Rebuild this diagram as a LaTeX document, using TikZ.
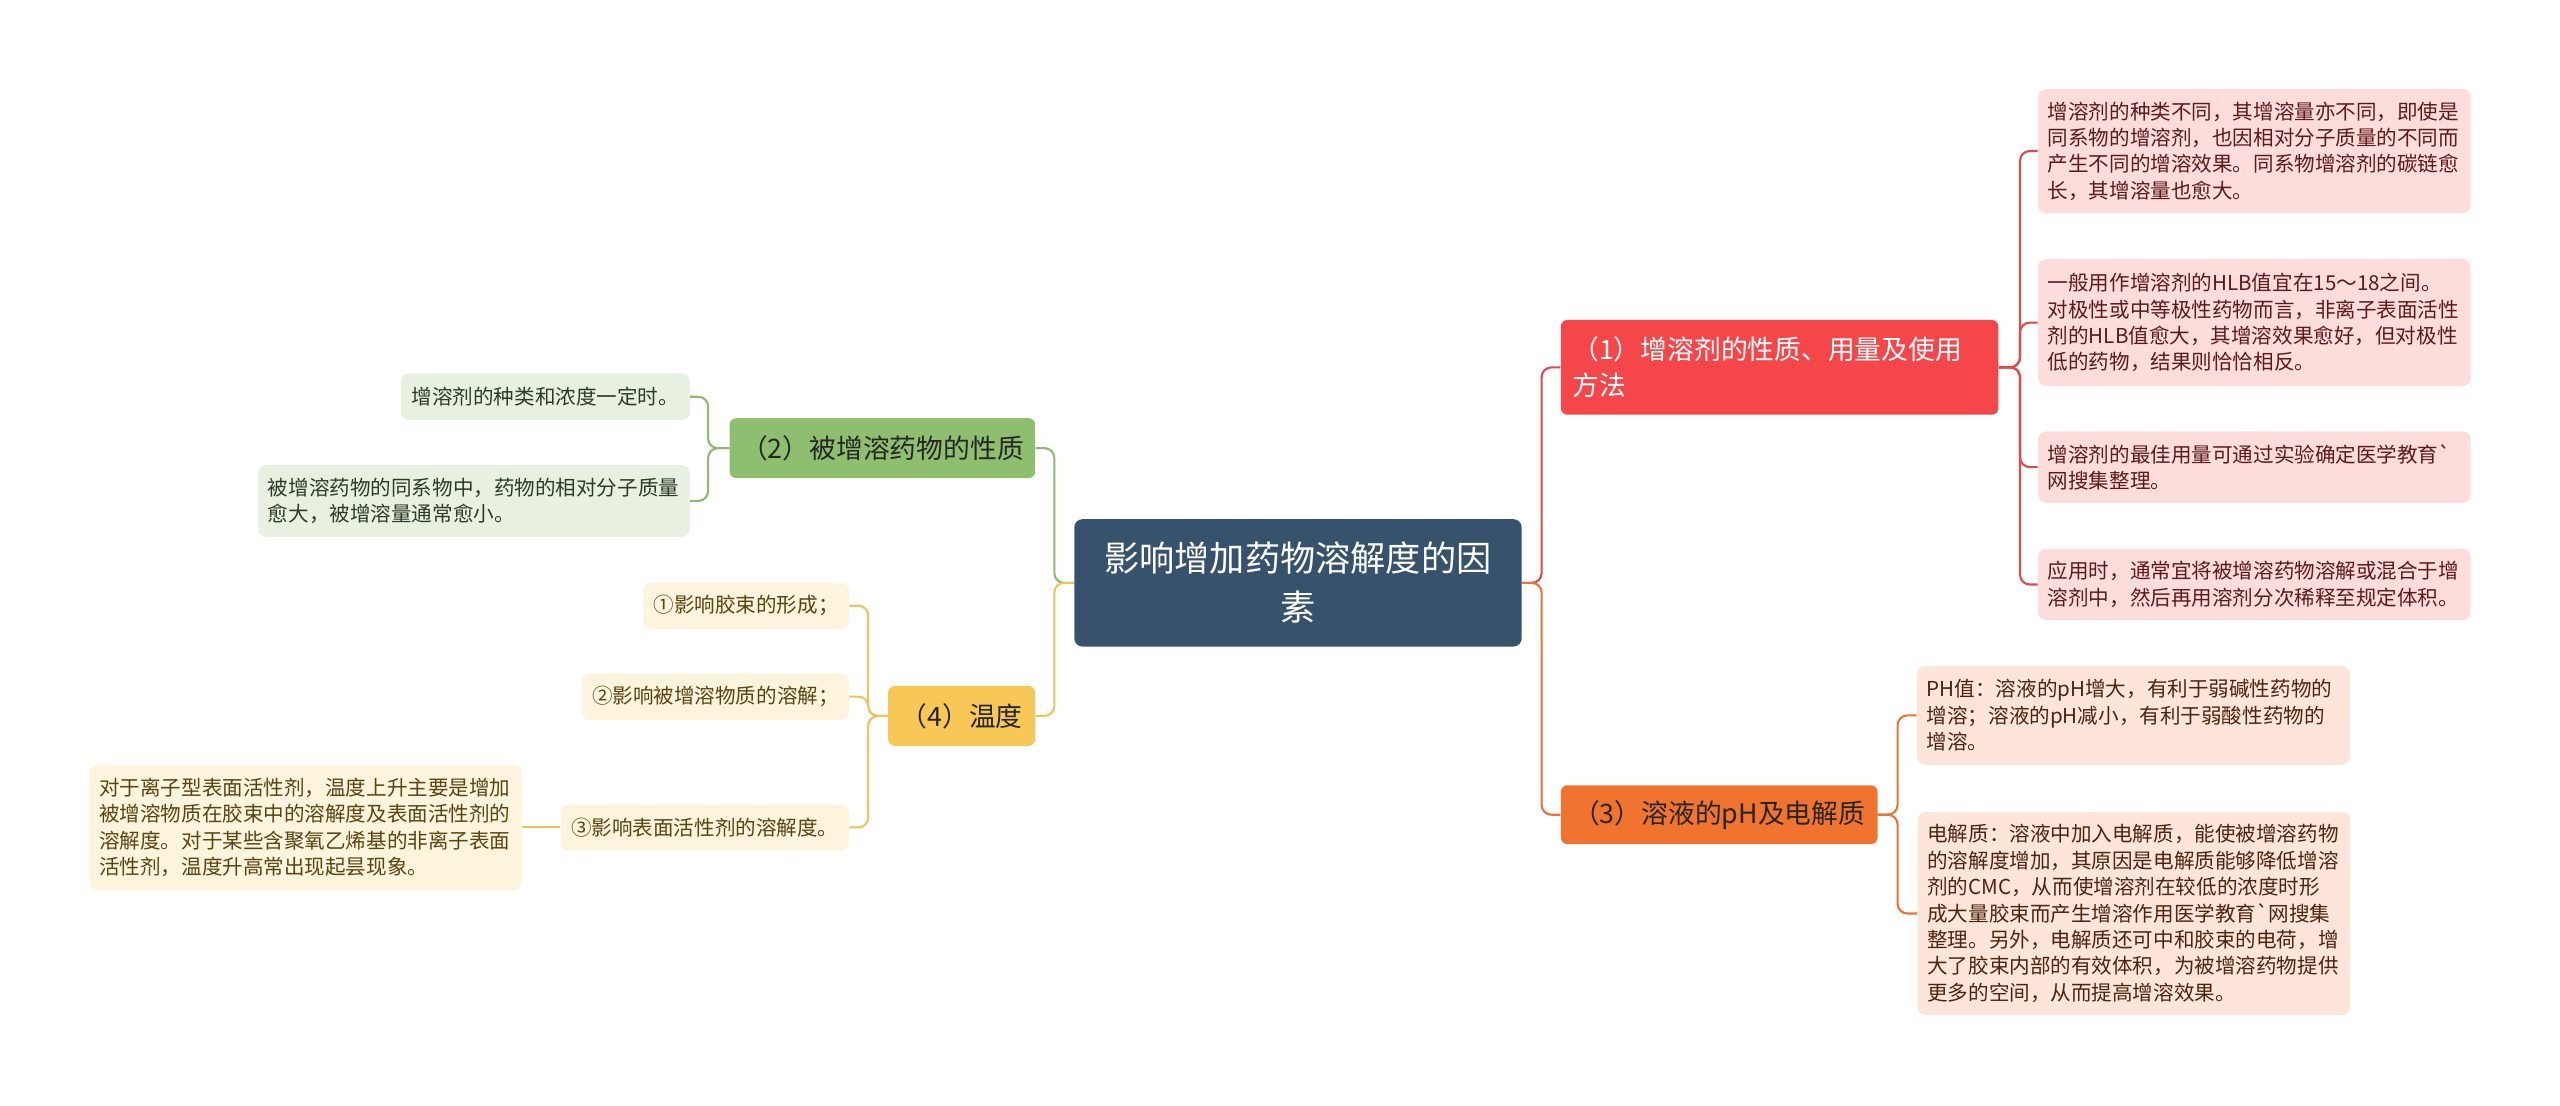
\documentclass[tikz,border=0pt]{standalone}
\usepackage{xcolor}
\usepackage{fontspec}
\usepackage{tikz}
\usetikzlibrary{positioning, calc}
\newfontfamily\cjk{Noto Sans CJK SC}
\definecolor{maproot}{HTML}{37526D}
\definecolor{mapred}{HTML}{F5474A}
\definecolor{mapredline}{HTML}{DE4A4A}
\definecolor{mapredsoft}{HTML}{FDDCDC}
\definecolor{mapredtext}{HTML}{5E1A1A}
\definecolor{maporange}{HTML}{F07330}
\definecolor{maporangeline}{HTML}{EA7435}
\definecolor{maporangesoft}{HTML}{FDE6D9}
\definecolor{maporangetext}{HTML}{4E2410}
\definecolor{mapgreen}{HTML}{8DBF6E}
\definecolor{mapgreenline}{HTML}{8DBA70}
\definecolor{mapgreensoft}{HTML}{E8F1E1}
\definecolor{mapgreentext}{HTML}{2E3A26}
\definecolor{mapyellow}{HTML}{F7C855}
\definecolor{mapyellowline}{HTML}{EFC35A}
\definecolor{mapyellowsoft}{HTML}{FDF4DE}
\definecolor{mapyellowtext}{HTML}{5A440F}
\tikzset{
    topic/.style={
        rectangle, rounded corners=0.15cm, fill=maproot, text=white,
        font=\cjk\fontsize{18.4pt}{25.6pt}\selectfont,
        text width=7.6cm, align=center, inner sep=0pt,
        minimum width=8.22cm, minimum height=2.34cm
    },
    branch/.style={
        rectangle, rounded corners=0.12cm, align=left,
        font=\cjk\fontsize{14pt}{18.8pt}\selectfont,
        inner xsep=0.21cm, inner ysep=0.05cm, minimum height=1.1cm
    },
    detail/.style={
        rectangle, rounded corners=0.15cm, align=left,
        font=\cjk\fontsize{10.75pt}{13.8pt}\selectfont,
        inner xsep=0.18cm, inner ysep=0.05cm
    },
    link/.style={draw, line width=1.1pt, rounded corners=0.18cm},
    % Mind map styles
    redbranch/.style={branch, fill=mapred, text=white},
    orangebranch/.style={branch, fill=maporange, text=black!85},
    greenbranch/.style={branch, fill=mapgreen, text=black!85},
    yellowbranch/.style={branch, fill=mapyellow, text=black!85},
    redleaf/.style={detail, fill=mapredsoft, text=mapredtext},
    orangeleaf/.style={detail, fill=maporangesoft, text=maporangetext},
    greenleaf/.style={detail, fill=mapgreensoft, text=mapgreentext},
    yellowleaf/.style={detail, fill=mapyellowsoft, text=mapyellowtext}
}
\begin{document}
\begin{tikzpicture}[x=0.03cm, y=-0.03cm]
        \path [fill=white, use as bounding box] (0,0) rectangle (1568,677);

        \node (root) [topic] at (795,357) {影响增加药物溶解度的因\\素};

        \node (b1) [redbranch, text width=7.62cm, minimum width=8.04cm, minimum height=1.74cm] at (1090,225) {（1）增溶剂的性质、用量及使用\\方法};
        \node (b3) [orangebranch, minimum width=5.82cm, minimum height=1.08cm] at (1053,499) {（3）溶液的pH及电解质};
        \node (b2) [greenbranch, minimum width=5.61cm] at (540.5,274.5) {（2）被增溶药物的性质};
        \node (b4) [yellowbranch, minimum width=2.7cm] at (589,438.5) {（4）温度};

        \node (l1a) [redleaf, text width=7.59cm, minimum height=2.28cm] at (1380.8,92.5) {增溶剂的种类不同，其增溶量亦不同，即使是\\同系物的增溶剂，也因相对分子质量的不同而\\产生不同的增溶效果。同系物增溶剂的碳链愈\\长，其增溶量也愈大。};
        \node (l1b) [redleaf, text width=7.59cm, minimum height=2.33cm] at (1380.8,197.6) {一般用作增溶剂的HLB值宜在15～18之间。\\对极性或中等极性药物而言，非离子表面活性\\剂的HLB值愈大，其增溶效果愈好，但对极性\\低的药物，结果则恰恰相反。};
        \node (l1c) [redleaf, text width=7.59cm, minimum height=1.31cm] at (1380.8,286.1) {增溶剂的最佳用量可通过实验确定医学教育`\\网搜集整理。};
        \node (l1d) [redleaf, text width=7.59cm, minimum height=1.31cm] at (1380.8,358) {应用时，通常宜将被增溶药物溶解或混合于增\\溶剂中，然后再用溶剂分次稀释至规定体积。};

        \node (l3a) [orangeleaf, text width=7.59cm, minimum height=1.82cm] at (1306.7,438.2) {PH值：溶液的pH增大，有利于弱碱性药物的\\增溶；溶液的pH减小，有利于弱酸性药物的\\增溶。};
        \node (l3b) [orangeleaf, text width=7.59cm, minimum height=3.73cm] at (1307,559.5) {电解质：溶液中加入电解质，能使被增溶药物\\的溶解度增加，其原因是电解质能够降低增溶\\剂的CMC，从而使增溶剂在较低的浓度时形\\成大量胶束而产生增溶作用医学教育`网搜集\\整理。另外，电解质还可中和胶束的电荷，增\\大了胶束内部的有效体积，为被增溶药物提供\\更多的空间，从而提高增溶效果。};

        \node (l2a) [greenleaf, minimum width=5.31cm, minimum height=0.86cm] at (334,243) {增溶剂的种类和浓度一定时。};
        \node (l2b) [greenleaf, text width=7.57cm, minimum height=1.32cm] at (290.3,306.8) {被增溶药物的同系物中，药物的相对分子质量\\愈大，被增溶量通常愈小。};

        \node (l4a) [yellowleaf, minimum width=3.78cm, minimum height=0.85cm] at (457,371) {①影响胶束的形成；};
        \node (l4b) [yellowleaf, minimum width=4.91cm, minimum height=0.86cm] at (438.2,426.7) {②影响被增溶物质的溶解；};
        \node (l4c) [yellowleaf, minimum width=5.30cm, minimum height=0.83cm] at (431.7,506.8) {③影响表面活性剂的溶解度。};
        \node (l4d) [yellowleaf, text width=7.58cm, minimum height=2.30cm] at (187.1,506.8) {对于离子型表面活性剂，温度上升主要是增加\\被增溶物质在胶束中的溶解度及表面活性剂的\\溶解度。对于某些含聚氧乙烯基的非离子表面\\活性剂，温度升高常出现起昙现象。};

        \draw [link, mapredline] (root.east) -- ++(12,0) |- (b1.west);
        \draw [link, maporangeline] (root.east) -- ++(12,0) |- (b3.west);
        \draw [link, mapgreenline] (root.west) -- ++(-12,0) |- (b2.east);
        \draw [link, mapyellowline] (root.west) -- ++(-12,0) |- (b4.east);

        \draw [link, mapredline] (b1.east) -- ++(13,0) |- (l1a.west);
        \draw [link, mapredline] (b1.east) -- ++(13,0) |- (l1b.west);
        \draw [link, mapredline] (b1.east) -- ++(13,0) |- (l1c.west);
        \draw [link, mapredline] (b1.east) -- ++(13,0) |- (l1d.west);
        \draw [link, maporangeline] (b3.east) -- ++(12,0) |- (l3a.west);
        \draw [link, maporangeline] (b3.east) -- ++(12,0) |- (l3b.west);
        \draw [link, mapgreenline] (b2.west) -- ++(-13,0) |- (l2a.east);
        \draw [link, mapgreenline] (b2.west) -- ++(-13,0) |- (l2b.east);
        \draw [link, mapyellowline] (b4.west) -- ++(-12,0) |- (l4a.east);
        \draw [link, mapyellowline] (b4.west) -- ++(-12,0) |- (l4b.east);
        \draw [link, mapyellowline] (b4.west) -- ++(-12,0) |- (l4c.east);
        \draw [link, mapyellowline] (l4c.west) -- (l4d.east);
    \end{tikzpicture}
\end{document}
